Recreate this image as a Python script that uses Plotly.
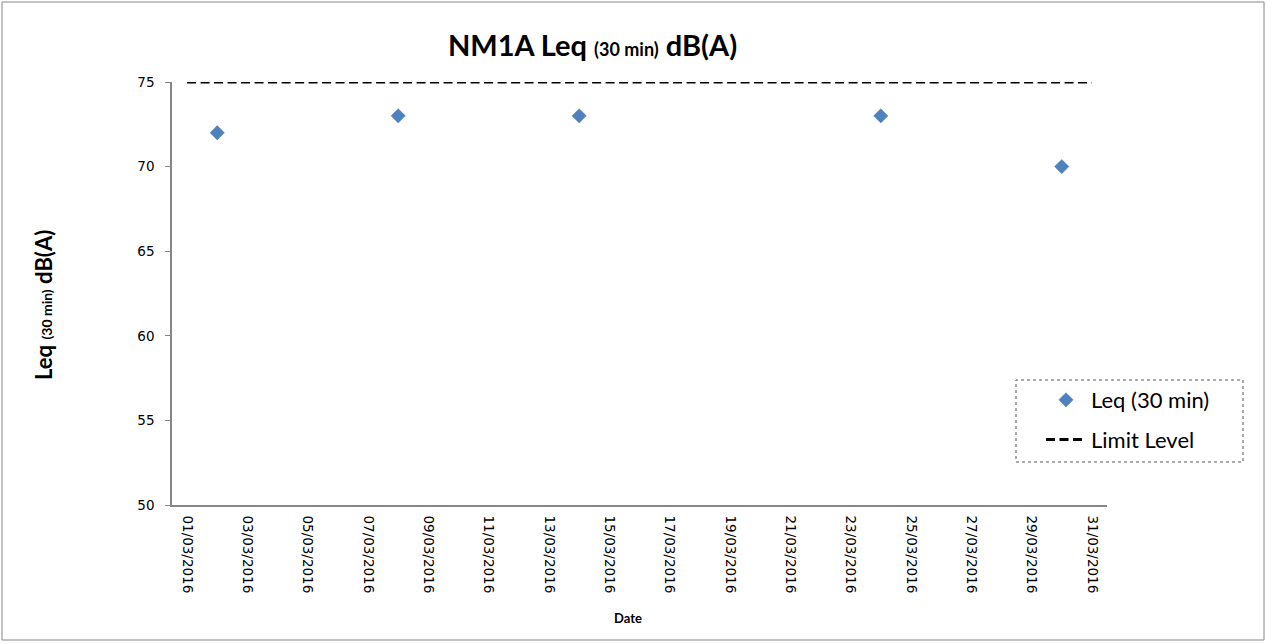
import plotly.graph_objects as go

# Data
dates = ["2016-03-02", "2016-03-08", "2016-03-14", "2016-03-24", "2016-03-30"]
leq_values = [72, 73, 73, 73, 70]
limit_dates = ["2016-03-01", "2016-03-31"]
limit_values = [75, 75]
y_ticks = [50, 55, 60, 65, 70, 75]

# Layout geometry (pixels)
W, H = 1267, 644
L, R, T, B = 172, 1107, 82, 505
pw, ph = R - L, B - T

def px(x):
    return (x - L) / pw

def py(y):
    return (B - y) / ph

fig = go.Figure()
fig.add_trace(go.Scatter(
    x=dates, y=leq_values, mode="markers", name="Leq (30 min)",
    legendgroup="a",
    marker=dict(symbol="diamond", size=11, color="#4F81BD",
                line=dict(width=0.5, color="#4F81BD")),
))
fig.add_trace(go.Scatter(
    x=limit_dates, y=limit_values, mode="lines", name="Limit Level",
    legendgroup="b",
    line=dict(color="black", width=3, dash="9px,4.5px"),
))

axis_col = "#868686"
tick_font = dict(family="DejaVu Sans", size=13.5, color="black")
cal = "Lato"

fig.update_layout(
    width=W, height=H,
    margin=dict(l=L, r=W - R, t=T, b=H - B, autoexpand=False),
    paper_bgcolor="white", plot_bgcolor="white",
    showlegend=True,
    legend=dict(x=px(1041), y=py(379), xanchor="left", yanchor="top",
                bgcolor="rgba(0,0,0,0)", borderwidth=0,
                font=dict(family=cal, size=22, color="black"),
                tracegroupgap=8, itemwidth=40),
    xaxis=dict(
        type="date",
        range=["2016-02-29 12:00", "2016-03-31 12:00"],
        tickmode="linear", tick0="2016-03-01", dtick=2 * 86400000,
        tickformat="%d/%m/%Y", tickangle=90,
        showgrid=False, zeroline=False,
        showline=True, linecolor=axis_col, linewidth=1.5,
        ticks="", tickfont=tick_font, ticklabelstandoff=6,
    ),
    yaxis=dict(
        range=[50, 75], tickvals=y_ticks,
        showgrid=False, zeroline=False,
        showline=True, linecolor=axis_col, linewidth=1.5,
        ticks="outside", ticklen=5, tickcolor=axis_col, tickwidth=1,
        tickfont=tick_font, ticklabelstandoff=8,
    ),
    annotations=[
        dict(text="<b>NM1A Leq <span style='font-size:18px'>(30 min)</span> dB(A)</b>",
             x=px(592), y=py(45), xref="paper", yref="paper",
             showarrow=False, font=dict(family=cal, size=29, color="black"),
             xanchor="center", yanchor="middle"),
        dict(text="<b>Leq <span style='font-size:14px'>(30 min)</span> dB(A)</b>",
             x=px(43), y=py(305), xref="paper", yref="paper", textangle=-90,
             showarrow=False, font=dict(family=cal, size=22, color="black"),
             xanchor="center", yanchor="middle"),
        dict(text="<b>Date</b>",
             x=px(628), y=py(618), xref="paper", yref="paper",
             showarrow=False, font=dict(family=cal, size=13, color="black"),
             xanchor="center", yanchor="middle"),
    ],
    shapes=[
        dict(type="rect", xref="paper", yref="paper",
             x0=px(2), x1=px(1264), y0=py(640), y1=py(2),
             line=dict(color=axis_col, width=1), layer="below"),
        dict(type="rect", xref="paper", yref="paper",
             x0=px(1016), x1=px(1243), y0=py(462), y1=py(380),
             line=dict(color="#555555", width=1, dash="dot")),
    ],
)

fig.write_html(
    "out.html",
    config={"displayModeBar": False},
    post_script="document.body.style.margin='0';document.body.style.overflow='hidden';",
)
